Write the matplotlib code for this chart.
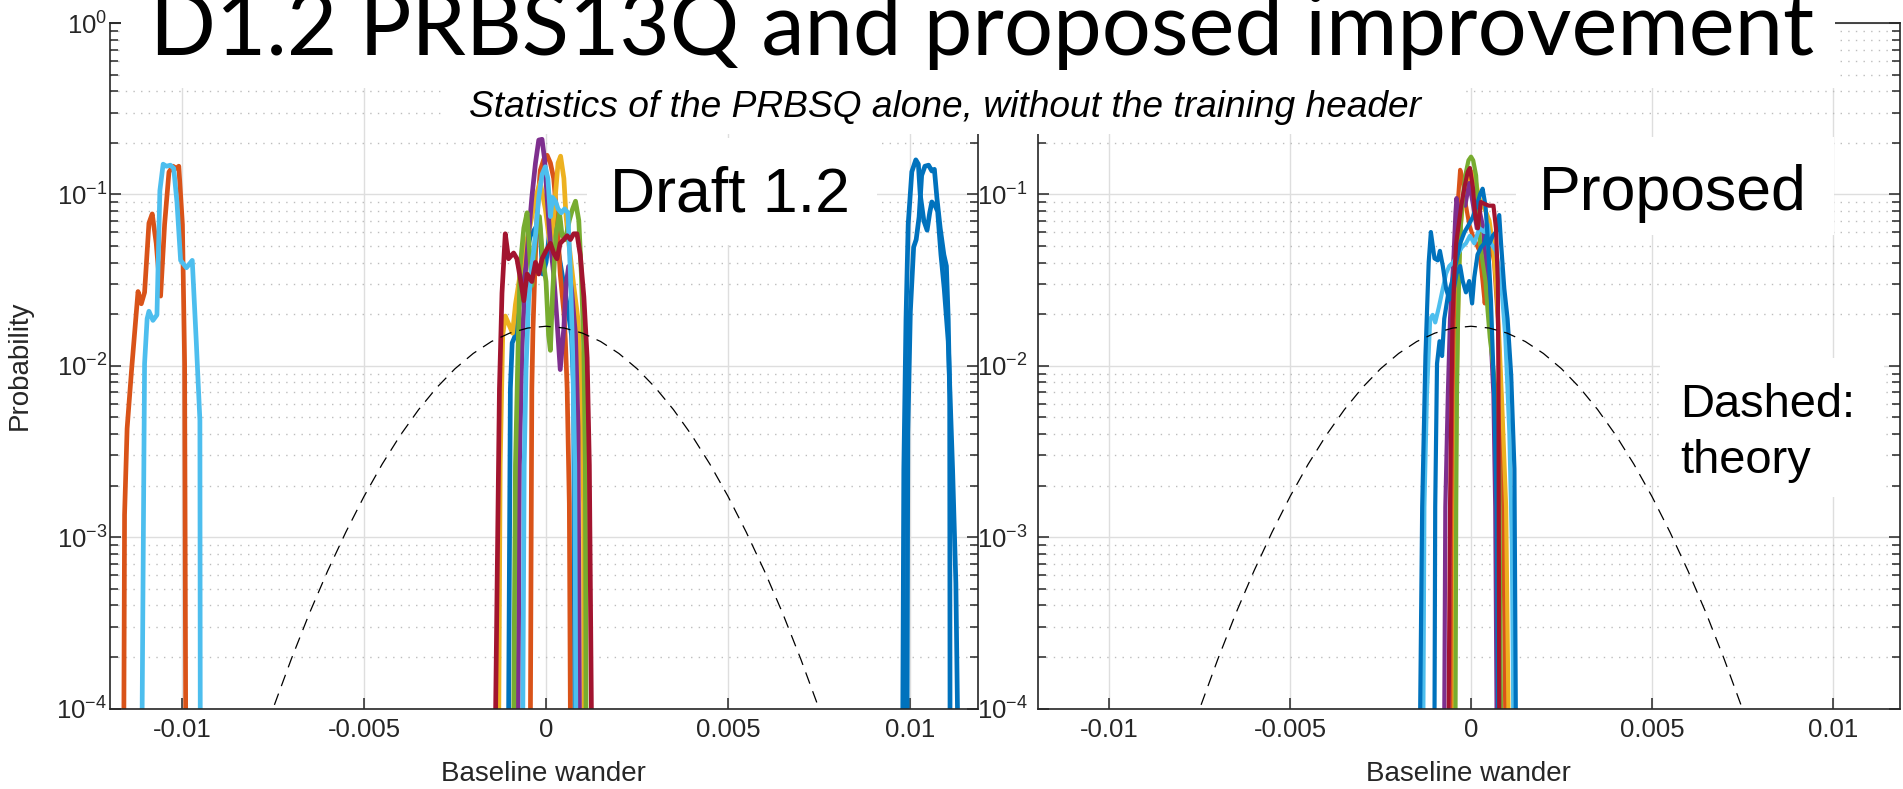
#!/usr/bin/env python3
# -*- coding: utf-8 -*-
#
# Baseline wander histograms: Draft 1.2 vs proposed PRBS13Q
#

import numpy as np
import matplotlib
matplotlib.use("Agg")
import matplotlib.pyplot as plt
from matplotlib.patches import Rectangle
from matplotlib.ticker import LogLocator, FixedLocator, FixedFormatter, NullFormatter

plt.rcParams['font.family'] = ['Liberation Sans', 'DejaVu Sans']
plt.rcParams['axes.unicode_minus'] = False

W, H = 1903, 789

# MATLAB default colour order
BLUE = '#0072BD'
ORANGE = '#D95319'
YELLOW = '#EDB120'
PURPLE = '#7E2F8E'
GREEN = '#77AC30'
LBLUE = '#4DBEEE'
DRED = '#A2142F'

# ---------------------------------------------------------------------
# DADES  (x en unitats de 1e-3, p = probabilitat)
# ---------------------------------------------------------------------

theory_x = [-8.0, -7.5, -7.0, -6.5, -6.0, -5.5, -5.0, -4.5, -4.0, -3.5, -3.0,
            -2.5, -2.0, -1.5, -1.0, -0.5, 0.0, 0.5, 1.0, 1.5, 2.0, 2.5, 3.0,
            3.5, 4.0, 4.5, 5.0, 5.5, 6.0, 6.5, 7.0, 7.5, 8.0]
theory_p = [4.9e-5, 1.0e-4, 1.94e-4, 3.6e-4, 6.35e-4, 1.07e-3, 1.73e-3, 2.67e-3,
            3.94e-3, 5.55e-3, 7.47e-3, 9.61e-3, 1.18e-2, 1.385e-2, 1.55e-2,
            1.66e-2, 1.70e-2, 1.66e-2, 1.55e-2, 1.385e-2, 1.18e-2, 9.61e-3,
            7.47e-3, 5.55e-3, 3.94e-3, 2.67e-3, 1.73e-3, 1.07e-3, 6.35e-4,
            3.6e-4, 1.94e-4, 1.0e-4, 4.9e-5]

# --- Draft 1.2 ---
d_bl_a_x = [9.80, 9.83, 9.89, 9.95, 10.05, 10.16, 10.23, 10.28, 10.38, 10.47,
            10.54, 10.60, 10.69, 10.76, 10.85, 10.94, 11.05, 11.17, 11.26, 11.31]
d_bl_a_p = [8e-5, 2.49e-3, 0.0188, 0.0667, 0.1355, 0.159, 0.150, 0.100, 0.0702,
            0.0618, 0.0777, 0.0903, 0.0859, 0.0796, 0.0445, 0.0282, 0.0139,
            2.49e-3, 5.4e-4, 8e-5]

d_bl_b_x = [9.92, 9.94, 10.01, 10.10, 10.17, 10.25, 10.32, 10.41, 10.51, 10.60,
            10.67, 10.74, 10.83, 10.93, 11.00, 11.05, 11.09, 11.10]
d_bl_b_p = [8e-5, 4.1e-3, 0.0208, 0.0492, 0.0545, 0.0738, 0.129, 0.146, 0.148,
            0.137, 0.140, 0.095, 0.0634, 0.0445, 0.0382, 0.0188, 6.8e-3, 8e-5]

d_or_a_x = [-11.60, -11.58, -11.51, -11.39, -11.21, -11.12, -11.03, -10.91,
            -10.82, -10.71, -10.59, -10.48, -10.36, -10.25, -10.16, -10.09,
            -9.99, -9.93, -9.90]
d_or_a_p = [8e-5, 1.35e-3, 4.3e-3, 9.3e-3, 0.0271, 0.023, 0.0268, 0.068, 0.0769,
            0.0518, 0.0255, 0.0667, 0.135, 0.146, 0.142, 0.146, 0.0667, 0.0103,
            8e-5]

d_lb_a_x = [-11.10, -11.03, -10.96, -10.91, -10.80, -10.69, -10.61, -10.52,
            -10.43, -10.32, -10.23, -10.14, -10.04, -9.88, -9.72, -9.61, -9.51,
            -9.50]
d_lb_a_p = [8e-5, 0.0103, 0.0188, 0.0208, 0.0184, 0.0198, 0.105, 0.150, 0.146,
            0.148, 0.142, 0.090, 0.0412, 0.0373, 0.0412, 0.0139, 4.8e-3, 8e-5]

d_bl_x = [-1.03, -0.98, -0.93, -0.84, -0.77, -0.68, -0.57, -0.43, -0.29, -0.18,
          -0.09, 0.00, 0.09, 0.18, 0.30, 0.44, 0.58, 0.70, 0.76, 0.79]
d_bl_p = [8e-5, 0.00735, 0.0136, 0.0151, 0.0205, 0.0279, 0.0421, 0.0574, 0.0636,
          0.0705, 0.0343, 0.0401, 0.0574, 0.0742, 0.0518, 0.0343, 0.0228,
          0.0151, 0.00735, 8e-5]

d_or_x = [-0.43, -0.40, -0.39, -0.36, -0.31, -0.25, -0.16, -0.06, 0.03, 0.12,
          0.21, 0.30, 0.39, 0.49, 0.53, 0.58, 0.64, 0.67]
d_or_p = [8e-5, 0.00263, 0.00735, 0.0159, 0.0343, 0.0742, 0.1375, 0.1604, 0.169,
          0.1524, 0.1241, 0.0742, 0.0343, 0.0205, 0.0143, 0.00735, 0.00157, 8e-5]

d_ye_x = [-1.30, -1.26, -1.19, -1.12, -1.03, -0.92, -0.84, -0.71, -0.57, -0.43,
          -0.29, -0.16, -0.02, 0.12, 0.21, 0.33, 0.40, 0.49, 0.55, 0.64, 0.76,
          0.88, 0.97, 1.03, 1.04]
d_ye_p = [8e-5, 0.00263, 0.0151, 0.0195, 0.0176, 0.0155, 0.0228, 0.0343, 0.0492,
          0.0670, 0.0960, 0.1178, 0.0823, 0.0492, 0.0742, 0.1524, 0.167, 0.1241,
          0.0742, 0.0492, 0.0294, 0.0185, 0.00735, 0.00157, 8e-5]

d_pu_x = [-0.77, -0.73, -0.66, -0.57, -0.48, -0.39, -0.29, -0.20, -0.11, -0.04,
          0.03, 0.12, 0.21, 0.30, 0.39, 0.49, 0.55, 0.62, 0.71, 0.81, 0.88, 0.92]
d_pu_p = [8e-5, 0.00263, 0.0123, 0.0343, 0.0574, 0.0960, 0.1524, 0.2075, 0.2096,
          0.1604, 0.0960, 0.0518, 0.0343, 0.0185, 0.0095, 0.0167, 0.0294,
          0.0380, 0.0265, 0.0151, 0.0044, 8e-5]

d_gr_x = [-0.89, -0.84, -0.77, -0.71, -0.61, -0.52, -0.46, -0.39, -0.29, -0.18,
          -0.09, 0.00, 0.07, 0.12, 0.18, 0.27, 0.37, 0.44, 0.53, 0.64, 0.73,
          0.81, 0.90, 0.97, 1.04, 1.08, 1.10]
d_gr_p = [8e-5, 0.00263, 0.0123, 0.0380, 0.0636, 0.0781, 0.0492, 0.0294, 0.0574,
          0.0742, 0.0421, 0.0310, 0.0151, 0.0123, 0.0265, 0.0574, 0.0781,
          0.0574, 0.0545, 0.0705, 0.0823, 0.0912, 0.0705, 0.0343, 0.0123,
          0.00263, 8e-5]

d_lb_x = [-0.64, -0.60, -0.55, -0.48, -0.39, -0.29, -0.20, -0.11, -0.02, 0.05,
          0.12, 0.18, 0.26, 0.33, 0.42, 0.51, 0.60, 0.67, 0.73, 0.79, 0.82]
d_lb_p = [8e-5, 0.00263, 0.0095, 0.0240, 0.0380, 0.0574, 0.0960, 0.1306, 0.1449,
          0.1241, 0.0742, 0.0960, 0.0912, 0.0823, 0.0781, 0.0823, 0.0781,
          0.0343, 0.0123, 0.00263, 8e-5]

d_dr_x = [-1.39, -1.28, -1.21, -1.12, -1.03, -0.89, -0.80, -0.71, -0.61, -0.52,
          -0.39, -0.29, -0.20, -0.11, 0.00, 0.12, 0.21, 0.30, 0.39, 0.49, 0.58,
          0.67, 0.76, 0.85, 0.94, 1.04, 1.13, 1.19, 1.25]
d_dr_p = [8e-5, 0.00735, 0.0265, 0.0589, 0.0421, 0.0455, 0.0421, 0.0326, 0.0240,
          0.0343, 0.0310, 0.0401, 0.0343, 0.0421, 0.0468, 0.0518, 0.0455,
          0.0421, 0.0518, 0.0545, 0.0574, 0.0545, 0.0589, 0.0589, 0.0444,
          0.0252, 0.0111, 0.00263, 8e-5]

# --- Proposed ---
p_bl_a_x = [-1.41, -1.35, -1.26, -1.17, -1.11, -1.01, -0.92, -0.86, -0.78, -0.69,
            -0.60, -0.51, -0.40, -0.30, -0.23, -0.14, -0.05, 0.03, 0.09, 0.18,
            0.28, 0.37, 0.43, 0.51, 0.60, 0.69, 0.78, 0.83, 0.92, 1.01, 1.11,
            1.20, 1.24]
p_bl_a_p = [8e-5, 0.0015, 0.0114, 0.0402, 0.0603, 0.0423, 0.0412, 0.0468, 0.0382,
            0.0282, 0.0243, 0.0255, 0.0345, 0.0382, 0.0312, 0.0268, 0.0312,
            0.0231, 0.0328, 0.0445, 0.0492, 0.0518, 0.0573, 0.0518, 0.0573,
            0.0603, 0.0757, 0.0518, 0.0282, 0.0188, 0.0088, 0.0025, 8e-5]

p_or_x = [-0.51, -0.48, -0.45, -0.41, -0.37, -0.30, -0.23, -0.14, -0.05, 0.05,
          0.14, 0.23, 0.32, 0.38, 0.46, 0.55, 0.64, 0.74, 0.83, 0.89, 0.95]
p_or_p = [8e-5, 0.0015, 0.0068, 0.0312, 0.0859, 0.139, 0.1225, 0.0859, 0.0667,
          0.0573, 0.0518, 0.0468, 0.0312, 0.0231, 0.0402, 0.0518, 0.0402,
          0.0188, 0.0068, 0.0015, 8e-5]

p_ye_x = [-0.46, -0.43, -0.40, -0.34, -0.28, -0.21, -0.14, -0.05, 0.05, 0.14,
          0.23, 0.32, 0.43, 0.51, 0.60, 0.69, 0.78, 0.87, 0.97, 1.04]
p_ye_p = [8e-5, 0.0015, 0.0068, 0.0312, 0.0667, 0.0951, 0.1107, 0.1288, 0.1355,
          0.1164, 0.0951, 0.0859, 0.0777, 0.0702, 0.0518, 0.0312, 0.0146,
          0.0053, 0.0015, 8e-5]

p_pu_x = [-0.74, -0.71, -0.64, -0.58, -0.52, -0.48, -0.43, -0.40, -0.32, -0.25,
          -0.16, -0.05, 0.06, 0.16, 0.23, 0.32, 0.41, 0.49, 0.55, 0.62, 0.67,
          0.71]
p_pu_p = [8e-5, 0.0015, 0.0068, 0.0188, 0.0312, 0.0445, 0.0777, 0.0951, 0.0667,
          0.0903, 0.0859, 0.1164, 0.0859, 0.0634, 0.0817, 0.0667, 0.0402,
          0.0243, 0.0139, 0.0068, 0.0015, 8e-5]

p_gr_x = [-0.43, -0.41, -0.39, -0.36, -0.32, -0.28, -0.23, -0.16, -0.07, 0.00,
          0.06, 0.14, 0.19, 0.25, 0.32, 0.40, 0.46, 0.52, 0.58, 0.69, 0.78, 0.83]
p_gr_p = [8e-5, 0.0015, 0.0068, 0.0188, 0.0402, 0.0667, 0.0951, 0.1288, 0.158,
          0.166, 0.158, 0.1288, 0.0859, 0.0518, 0.0402, 0.0312, 0.0208, 0.0146,
          0.0114, 0.0068, 0.0025, 8e-5]

p_lb_x = [-1.32, -1.29, -1.22, -1.13, -1.06, -0.99, -0.89, -0.78, -0.69, -0.60,
          -0.49, -0.37, -0.25, -0.14, -0.03, 0.09, 0.23, 0.37, 0.46, 0.55, 0.69,
          0.83, 0.95, 1.06, 1.13, 1.17]
p_lb_p = [8e-5, 0.0015, 0.0068, 0.0188, 0.0198, 0.0179, 0.0219, 0.0282, 0.0345,
          0.0382, 0.0402, 0.0445, 0.0492, 0.0518, 0.0573, 0.0518, 0.0634,
          0.0603, 0.0667, 0.0518, 0.0468, 0.0312, 0.0146, 0.0041, 0.0009, 8e-5]

p_bl_b_x = [-1.01, -0.99, -0.94, -0.87, -0.80, -0.74, -0.64, -0.52, -0.41, -0.30,
            -0.18, -0.06, 0.05, 0.16, 0.25, 0.32, 0.40, 0.47, 0.55, 0.64, 0.71,
            0.75]
p_bl_b_p = [8e-5, 0.0015, 0.0103, 0.0139, 0.0114, 0.0188, 0.0255, 0.0312, 0.0402,
            0.0518, 0.0603, 0.0667, 0.0738, 0.0859, 0.1, 0.1079, 0.0859, 0.0518,
            0.0243, 0.0068, 0.0015, 8e-5]

p_dr_x = [-0.62, -0.58, -0.54, -0.51, -0.46, -0.41, -0.34, -0.27, -0.18, -0.09,
          -0.03, 0.05, 0.12, 0.19, 0.27, 0.37, 0.49, 0.62, 0.69, 0.74, 0.76, 0.78]
p_dr_p = [8e-5, 0.0015, 0.0068, 0.0188, 0.0345, 0.0518, 0.0667, 0.0859, 0.1107,
          0.1355, 0.1425, 0.1107, 0.0738, 0.0634, 0.0903, 0.0881, 0.0859,
          0.0859, 0.0634, 0.0312, 0.0068, 8e-5]

draft_curves = [
    (d_bl_a_x, d_bl_a_p, BLUE),
    (d_or_a_x, d_or_a_p, ORANGE),
    (d_lb_a_x, d_lb_a_p, LBLUE),
    (d_bl_b_x, d_bl_b_p, BLUE),
    (d_bl_x, d_bl_p, BLUE),
    (d_or_x, d_or_p, ORANGE),
    (d_ye_x, d_ye_p, YELLOW),
    (d_pu_x, d_pu_p, PURPLE),
    (d_gr_x, d_gr_p, GREEN),
    (d_lb_x, d_lb_p, LBLUE),
    (d_dr_x, d_dr_p, DRED),
]

proposed_curves = [
    (p_or_x, p_or_p, ORANGE),
    (p_ye_x, p_ye_p, YELLOW),
    (p_pu_x, p_pu_p, PURPLE),
    (p_gr_x, p_gr_p, GREEN),
    (p_lb_x, p_lb_p, LBLUE),
    (p_bl_b_x, p_bl_b_p, BLUE),
    (p_bl_a_x, p_bl_a_p, BLUE),
    (p_dr_x, p_dr_p, DRED),
]

x_ticks = [-0.01, -0.005, 0, 0.005, 0.01]
x_ticklabels = ['-0.01', '-0.005', '0', '0.005', '0.01']

y_ticks = [1e-4, 1e-3, 1e-2, 1e-1, 1e0]
y_ticklabels = [r'$\mathdefault{10^{-4}}$', r'$\mathdefault{10^{-3}}$',
                r'$\mathdefault{10^{-2}}$', r'$\mathdefault{10^{-1}}$',
                r'$\mathdefault{10^{0}}$']

TITLE = "D1.2 PRBS13Q and proposed improvement"
SUBTITLE = "Statistics of the PRBSQ alone, without the training header"


# ---------------------------------------------------------------------
# UTILITATS
# ---------------------------------------------------------------------

def fx(px):
    return px / W


def fy(py):
    # py mesurat des de dalt
    return 1 - py / H


def caixa_blanca(fig, x0, y0, x1, y1):
    # rectangle blanc (coordenades en píxels des de dalt a l'esquerra)
    fig.add_artist(Rectangle((fx(x0), fy(y1)), fx(x1 - x0), (y1 - y0) / H,
                             transform=fig.transFigure, facecolor='white',
                             edgecolor='none', zorder=10))


def ajusta_amplada(fig, txt, amplada_px):
    r = fig.canvas.get_renderer()
    bb = txt.get_window_extent(renderer=r)
    txt.set_fontsize(txt.get_fontsize() * amplada_px / bb.width)


def estil_eixos(ax, pad_y, etiquetes_y):
    ax.set_yscale('log')
    ax.set_ylim(1e-4, 1)
    ax.set_xlim(-0.01198, 0.01186)
    ax.xaxis.set_major_locator(FixedLocator(x_ticks))
    ax.xaxis.set_major_formatter(FixedFormatter(x_ticklabels))
    ax.yaxis.set_major_locator(FixedLocator(y_ticks))
    ax.yaxis.set_major_formatter(FixedFormatter(etiquetes_y))
    ax.yaxis.set_minor_locator(LogLocator(base=10, subs=np.arange(2, 10), numticks=20))
    ax.yaxis.set_minor_formatter(NullFormatter())

    ax.set_axisbelow(True)
    ax.grid(True, which='major', color='#dedede', linewidth=1.0, linestyle='-')
    ax.grid(True, which='minor', axis='y', color='#bdbdbd', linewidth=1.0,
            linestyle=(0, (1, 4.5)))

    for s in ax.spines.values():
        s.set_color('#262626')
        s.set_linewidth(1.2)

    ax.tick_params(which='both', direction='in', top=True, right=True,
                   color='#262626', labelcolor='#262626', labelsize=18.5, width=1.1)
    ax.tick_params(which='major', length=8)
    ax.tick_params(which='minor', length=5.5)
    ax.tick_params(axis='y', pad=pad_y)
    ax.tick_params(axis='x', pad=7)

    ax.set_xlabel("Baseline wander", fontsize=20, color='#262626')
    ax.xaxis.set_label_coords(0.5, -0.077)


# ---------------------------------------------------------------------
# GRÀFIC
# ---------------------------------------------------------------------

fig = plt.figure(figsize=(W / 100, H / 100), dpi=100)

ax1 = fig.add_axes([fx(110), 1 - 708.5 / H, fx(867.7), 685.5 / H])
ax2 = fig.add_axes([fx(1037.7), 1 - 708.5 / H, fx(862.3), 685.5 / H])

for xs, ps, c in draft_curves:
    ax1.plot(np.array(xs) * 1e-3, ps, color=c, linewidth=3.4,
             solid_joinstyle='round')
for xs, ps, c in proposed_curves:
    ax2.plot(np.array(xs) * 1e-3, ps, color=c, linewidth=3.0,
             solid_joinstyle='round')

for ax in (ax1, ax2):
    ax.plot(np.array(theory_x) * 1e-3, theory_p, color='black', linewidth=0.9,
            linestyle=(0, (9.6, 6.4)))

estil_eixos(ax1, 2, y_ticklabels)
# al panell dret l'etiqueta 10^0 queda tapada pel títol
estil_eixos(ax2, 7, y_ticklabels[:-1] + [''])

ax1.set_ylabel("Probability", fontsize=20, color='#262626')
ax1.yaxis.set_label_coords(-0.089, 0.5)

# Caixes de text (fons blanc) com a la diapositiva
caixa_blanca(fig, 121, 0, 1835, 88)      # títol
caixa_blanca(fig, 442, 88, 1461, 134)    # subtítol
caixa_blanca(fig, 587, 138, 877, 245)    # Draft 1.2
caixa_blanca(fig, 1516, 137, 1834, 235)  # Proposed
caixa_blanca(fig, 1660, 358, 1884, 497)  # Dashed: theory

t_tit = fig.text(fx(150), fy(55), TITLE, fontsize=60, family=['Lato', 'DejaVu Sans'],
                 ha='left', va='baseline', color='black', zorder=11)
t_sub = fig.text(fx(469), fy(117), SUBTITLE, fontsize=24, style='italic',
                 ha='left', va='baseline', color='black', zorder=11)
t_dr = fig.text(fx(610), fy(212), "Draft 1.2", fontsize=46,
                ha='left', va='baseline', color='black', zorder=11)
t_pr = fig.text(fx(1539), fy(210), "Proposed", fontsize=46,
                ha='left', va='baseline', color='black', zorder=11)
t_da = fig.text(fx(1680), fy(417), "Dashed:", fontsize=34,
                ha='left', va='baseline', color='black', zorder=11)
t_th = fig.text(fx(1680), fy(473), "theory", fontsize=34,
                ha='left', va='baseline', color='black', zorder=11)

ajusta_amplada(fig, t_tit, 1665)
ajusta_amplada(fig, t_sub, 954)
ajusta_amplada(fig, t_dr, 240)
ajusta_amplada(fig, t_pr, 268)
ajusta_amplada(fig, t_da, 175)
t_th.set_fontsize(t_da.get_fontsize())

fig.savefig("out.png", dpi=100, facecolor='white')
